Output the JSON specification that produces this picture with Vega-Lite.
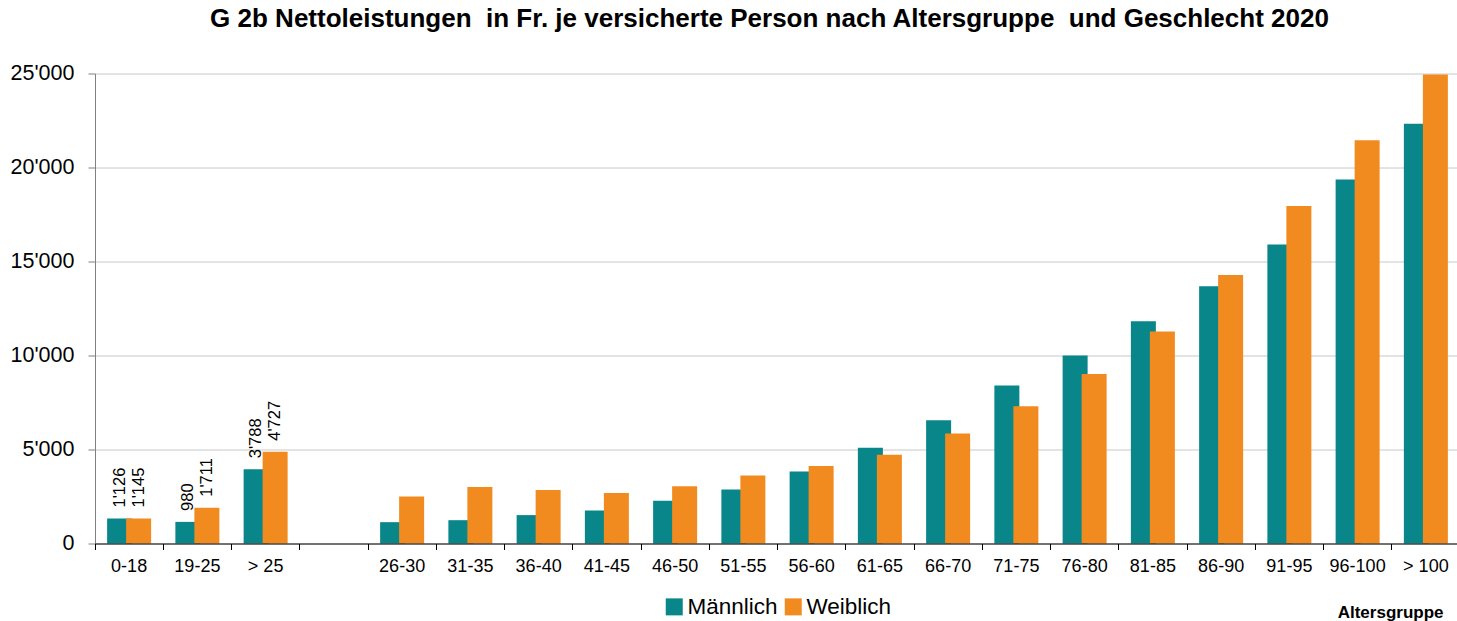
{
  "$schema": "https://vega.github.io/schema/vega-lite/v6.json",
  "width": 1365,
  "height": 470,
  "autosize": {"type": "none"},
  "padding": {"left": 95, "top": 73.5, "right": 0, "bottom": 78},
  "background": "white",
  "config": {"view": {"stroke": null}, "font": "Liberation Sans"},
  "title": {
    "text": "G 2b Nettoleistungen\u00a0 in Fr. je versicherte Person nach Altersgruppe\u00a0 und Geschlecht 2020",
    "font": "Liberation Sans",
    "fontSize": 26,
    "fontWeight": "bold",
    "color": "#000000",
    "anchor": "middle",
    "frame": "group",
    "dx": -8,
    "baseline": "alphabetic",
    "offset": 10
  },
  "data": {
    "values": [
      {"group": "0-18", "sex": "Männlich", "value": 1330, "label": "1'126"},
      {"group": "19-25", "sex": "Männlich", "value": 1150, "label": "980"},
      {"group": "> 25", "sex": "Männlich", "value": 3950, "label": "3'788"},
      {"group": "26-30", "sex": "Männlich", "value": 1135},
      {"group": "31-35", "sex": "Männlich", "value": 1240},
      {"group": "36-40", "sex": "Männlich", "value": 1510},
      {"group": "41-45", "sex": "Männlich", "value": 1755},
      {"group": "46-50", "sex": "Männlich", "value": 2270},
      {"group": "51-55", "sex": "Männlich", "value": 2870},
      {"group": "56-60", "sex": "Männlich", "value": 3830},
      {"group": "61-65", "sex": "Männlich", "value": 5090},
      {"group": "66-70", "sex": "Männlich", "value": 6550},
      {"group": "71-75", "sex": "Männlich", "value": 8410},
      {"group": "76-80", "sex": "Männlich", "value": 10000},
      {"group": "81-85", "sex": "Männlich", "value": 11820},
      {"group": "86-90", "sex": "Männlich", "value": 13680},
      {"group": "91-95", "sex": "Männlich", "value": 15900},
      {"group": "96-100", "sex": "Männlich", "value": 19360},
      {"group": "> 100", "sex": "Männlich", "value": 22330},
      {"group": "0-18", "sex": "Weiblich", "value": 1330, "label": "1'145"},
      {"group": "19-25", "sex": "Weiblich", "value": 1900, "label": "1'711"},
      {"group": "> 25", "sex": "Weiblich", "value": 4880, "label": "4'727"},
      {"group": "26-30", "sex": "Weiblich", "value": 2500},
      {"group": "31-35", "sex": "Weiblich", "value": 3010},
      {"group": "36-40", "sex": "Weiblich", "value": 2840},
      {"group": "41-45", "sex": "Weiblich", "value": 2680},
      {"group": "46-50", "sex": "Weiblich", "value": 3050},
      {"group": "51-55", "sex": "Weiblich", "value": 3620},
      {"group": "56-60", "sex": "Weiblich", "value": 4120},
      {"group": "61-65", "sex": "Weiblich", "value": 4720},
      {"group": "66-70", "sex": "Weiblich", "value": 5850},
      {"group": "71-75", "sex": "Weiblich", "value": 7300},
      {"group": "76-80", "sex": "Weiblich", "value": 9010},
      {"group": "81-85", "sex": "Weiblich", "value": 11270},
      {"group": "86-90", "sex": "Weiblich", "value": 14280},
      {"group": "91-95", "sex": "Weiblich", "value": 17950},
      {"group": "96-100", "sex": "Weiblich", "value": 21450},
      {"group": "> 100", "sex": "Weiblich", "value": 24950}
    ]
  },
  "encoding": {
    "x": {
      "field": "group",
      "type": "nominal",
      "scale": {
        "domain": ["0-18", "19-25", "> 25", " ", "26-30", "31-35", "36-40", "41-45", "46-50", "51-55", "56-60", "61-65", "66-70", "71-75", "76-80", "81-85", "86-90", "91-95", "96-100", "> 100"],
        "paddingInner": 0,
        "paddingOuter": 0
      },
      "axis": {
        "title": "Altersgruppe",
        "bandPosition": 0,
        "labelAngle": 0,
        "labelFont": "Liberation Sans",
        "labelFontSize": 18,
        "labelColor": "#000000",
        "labelPadding": 8,
        "ticks": true,
        "tickSize": 6,
        "tickColor": "#000000",
        "domainColor": "#000000",
        "grid": false,
        "zindex": 1,
        "titleFont": "Liberation Sans",
        "titleFontSize": 17,
        "titleFontWeight": "bold",
        "titleColor": "#000000",
        "titleAlign": "right",
        "titleBaseline": "alphabetic",
        "titleX": 1348,
        "titleY": 73.5
      }
    },
    "xOffset": {
      "field": "sex",
      "type": "nominal",
      "scale": {"domain": ["Männlich", "Weiblich"], "paddingInner": 0, "paddingOuter": 0.796}
    },
    "y": {
      "field": "value",
      "type": "quantitative",
      "scale": {"domain": [0, 25000], "nice": false},
      "axis": {
        "title": null,
        "values": [0, 5000, 10000, 15000, 20000, 25000],
        "labelExpr": "replace(format(datum.value, ','), ',', \"'\")",
        "labelFont": "Liberation Sans",
        "labelFontSize": 21.5,
        "labelColor": "#000000",
        "labelPadding": 14,
        "tickSize": 7,
        "tickColor": "#808080",
        "domainColor": "#808080",
        "grid": true,
        "gridColor": "#c8c8c8"
      }
    }
  },
  "layer": [
    {
      "mark": {"type": "bar", "width": 25},
      "encoding": {
        "color": {
          "field": "sex",
          "type": "nominal",
          "scale": {"domain": ["Männlich", "Weiblich"], "range": ["#08868a", "#f28b1f"]},
          "legend": {
            "orient": "none",
            "legendX": 568,
            "legendY": 522,
            "direction": "horizontal",
            "title": null,
            "symbolType": "square",
            "symbolSize": 289,
            "symbolStrokeWidth": 0,
            "symbolOpacity": 1,
            "labelFont": "Liberation Sans",
            "labelFontSize": 22.5,
            "labelColor": "#000000",
            "labelOffset": 2,
            "columnPadding": 4
          }
        }
      }
    },
    {
      "transform": [{"filter": "isString(datum.label)"}],
      "mark": {"type": "text", "angle": 270, "align": "left", "baseline": "middle", "dx": 11, "fontSize": 16.5, "font": "Liberation Sans", "color": "#000000"},
      "encoding": {
        "text": {"field": "label", "type": "nominal"}
      }
    }
  ]
}
